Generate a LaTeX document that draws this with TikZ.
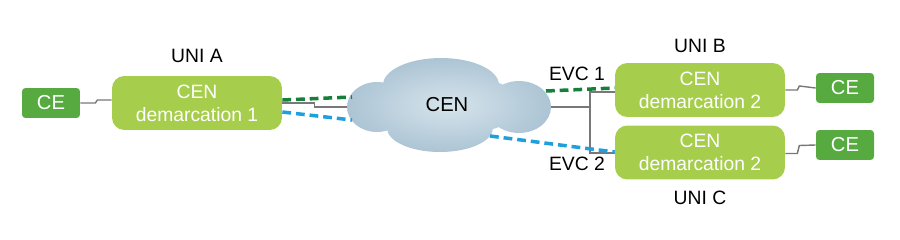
\documentclass[tikz,border=0pt]{standalone}
\usepackage{fontspec}
\setmainfont{Liberation Sans}
\definecolor{cegreen}{RGB}{86,170,64}
\definecolor{demgreen}{RGB}{166,206,76}
\definecolor{evcgreen}{RGB}{22,128,58}
\definecolor{evcblue}{RGB}{30,160,220}
\definecolor{linkgray}{RGB}{120,120,120}
\definecolor{cloudin}{RGB}{214,228,236}
\definecolor{cloudout}{RGB}{172,196,212}
\usetikzlibrary{calc}
\tikzset{
  cebox/.style={fill=cegreen, rounded corners=2pt, text=white,
                font=\fontsize{11.5}{13}\selectfont,
                minimum width=1.16cm, minimum height=0.6cm, inner sep=0pt},
  dembox/.style={fill=demgreen, rounded corners=7pt, text=white,
                 font=\fontsize{11}{13}\selectfont, align=center,
                 minimum width=3.4cm, minimum height=1.08cm, inner sep=0pt},
  lbl/.style={font=\fontsize{11}{13}\selectfont, text=black},
  link/.style={draw=linkgray, line width=0.8pt},
  evcone/.style={draw=evcgreen, line width=2pt, dash pattern=on 5pt off 2.8pt},
  evctwo/.style={draw=evcblue, line width=2pt, dash pattern=on 5pt off 2.8pt},
}

\begin{document}
\begin{tikzpicture}[x=0.02cm, y=-0.02cm]
\useasboundingbox (0,0) rectangle (900,240);

% --- CEN cloud ---
\shade[inner color=cloudin, outer color=cloudout]
  (377,107) ellipse [x radius=30, y radius=25]
  (441,85) ellipse [x radius=58, y radius=27]
  (519,107) ellipse [x radius=32, y radius=26]
  (440,128) ellipse [x radius=53, y radius=24]
  (450,105) ellipse [x radius=72, y radius=30];
\node[lbl, font=\fontsize{11.5}{13}\selectfont] (cen) at (447,105) {CEN};

% --- UNI A side ---
\node[cebox] (ceA) at (51,103) {CE};
\node[dembox] (dmA) at (197,103) {CEN\\demarcation 1};
\node[lbl] (uniA) at (197,56) {UNI A};

% --- UNI B / UNI C side ---
\node[dembox] (dmB) at (700,90) {CEN\\demarcation 2};
\node[dembox] (dmC) at (700,152.5) {CEN\\demarcation 2};
\node[cebox] (ceB) at (845,88) {CE};
\node[cebox] (ceC) at (845,145) {CE};
\node[lbl] (uniB) at (700,46) {UNI B};
\node[lbl] (uniC) at (700,198) {UNI C};
\node[lbl] (evcA) at (577,74) {EVC 1};
\node[lbl] (evcB) at (577,164) {EVC 2};

% free ends on the cloud
\coordinate (cwG) at (352,97);
\coordinate (cwL) at (347,107);
\coordinate (cwB) at (352,120);
\coordinate (ceG) at (546,91);
\coordinate (ceL) at (551,107);
\coordinate (ceBl) at (490,136);
\coordinate (fork) at (590,107);

% access links
\draw[link] (ceA.east) -- ++(15,0) -- ++(2,-3) -- ($(dmA.west)+(0,-3)$);
\draw[link] (dmB.east) -- ++(12,0) -- ++(2,-4) -- (ceB.west);
\draw[link] ($(dmC.east)+(0,1)$) -- ++(12,0) -- ++(2,-8) -- (ceC.west);

% gray trunk through the CEN
\draw[link] (dmA.east) -- ++(32,0) -- ++(0,4) -- (cwL);
\draw[link] (ceL) -- (fork);
\draw[link] (fork) |- ($(dmB.west)+(0,2)$);
\draw[link] (fork) |- ($(dmC.west)+(0,0.5)$);

% EVC 1
\draw[evcone] ($(dmA.east)+(0,-3)$) -- (cwG);
\draw[evcone] (ceG) -- ($(dmB.west)+(0,-2)$);

% EVC 2
\draw[evctwo] ($(dmA.east)+(0,9)$) -- (cwB);
\draw[evctwo] (ceBl) -- ($(dmC.west)+(0,-0.5)$);

\end{tikzpicture}
\end{document}
